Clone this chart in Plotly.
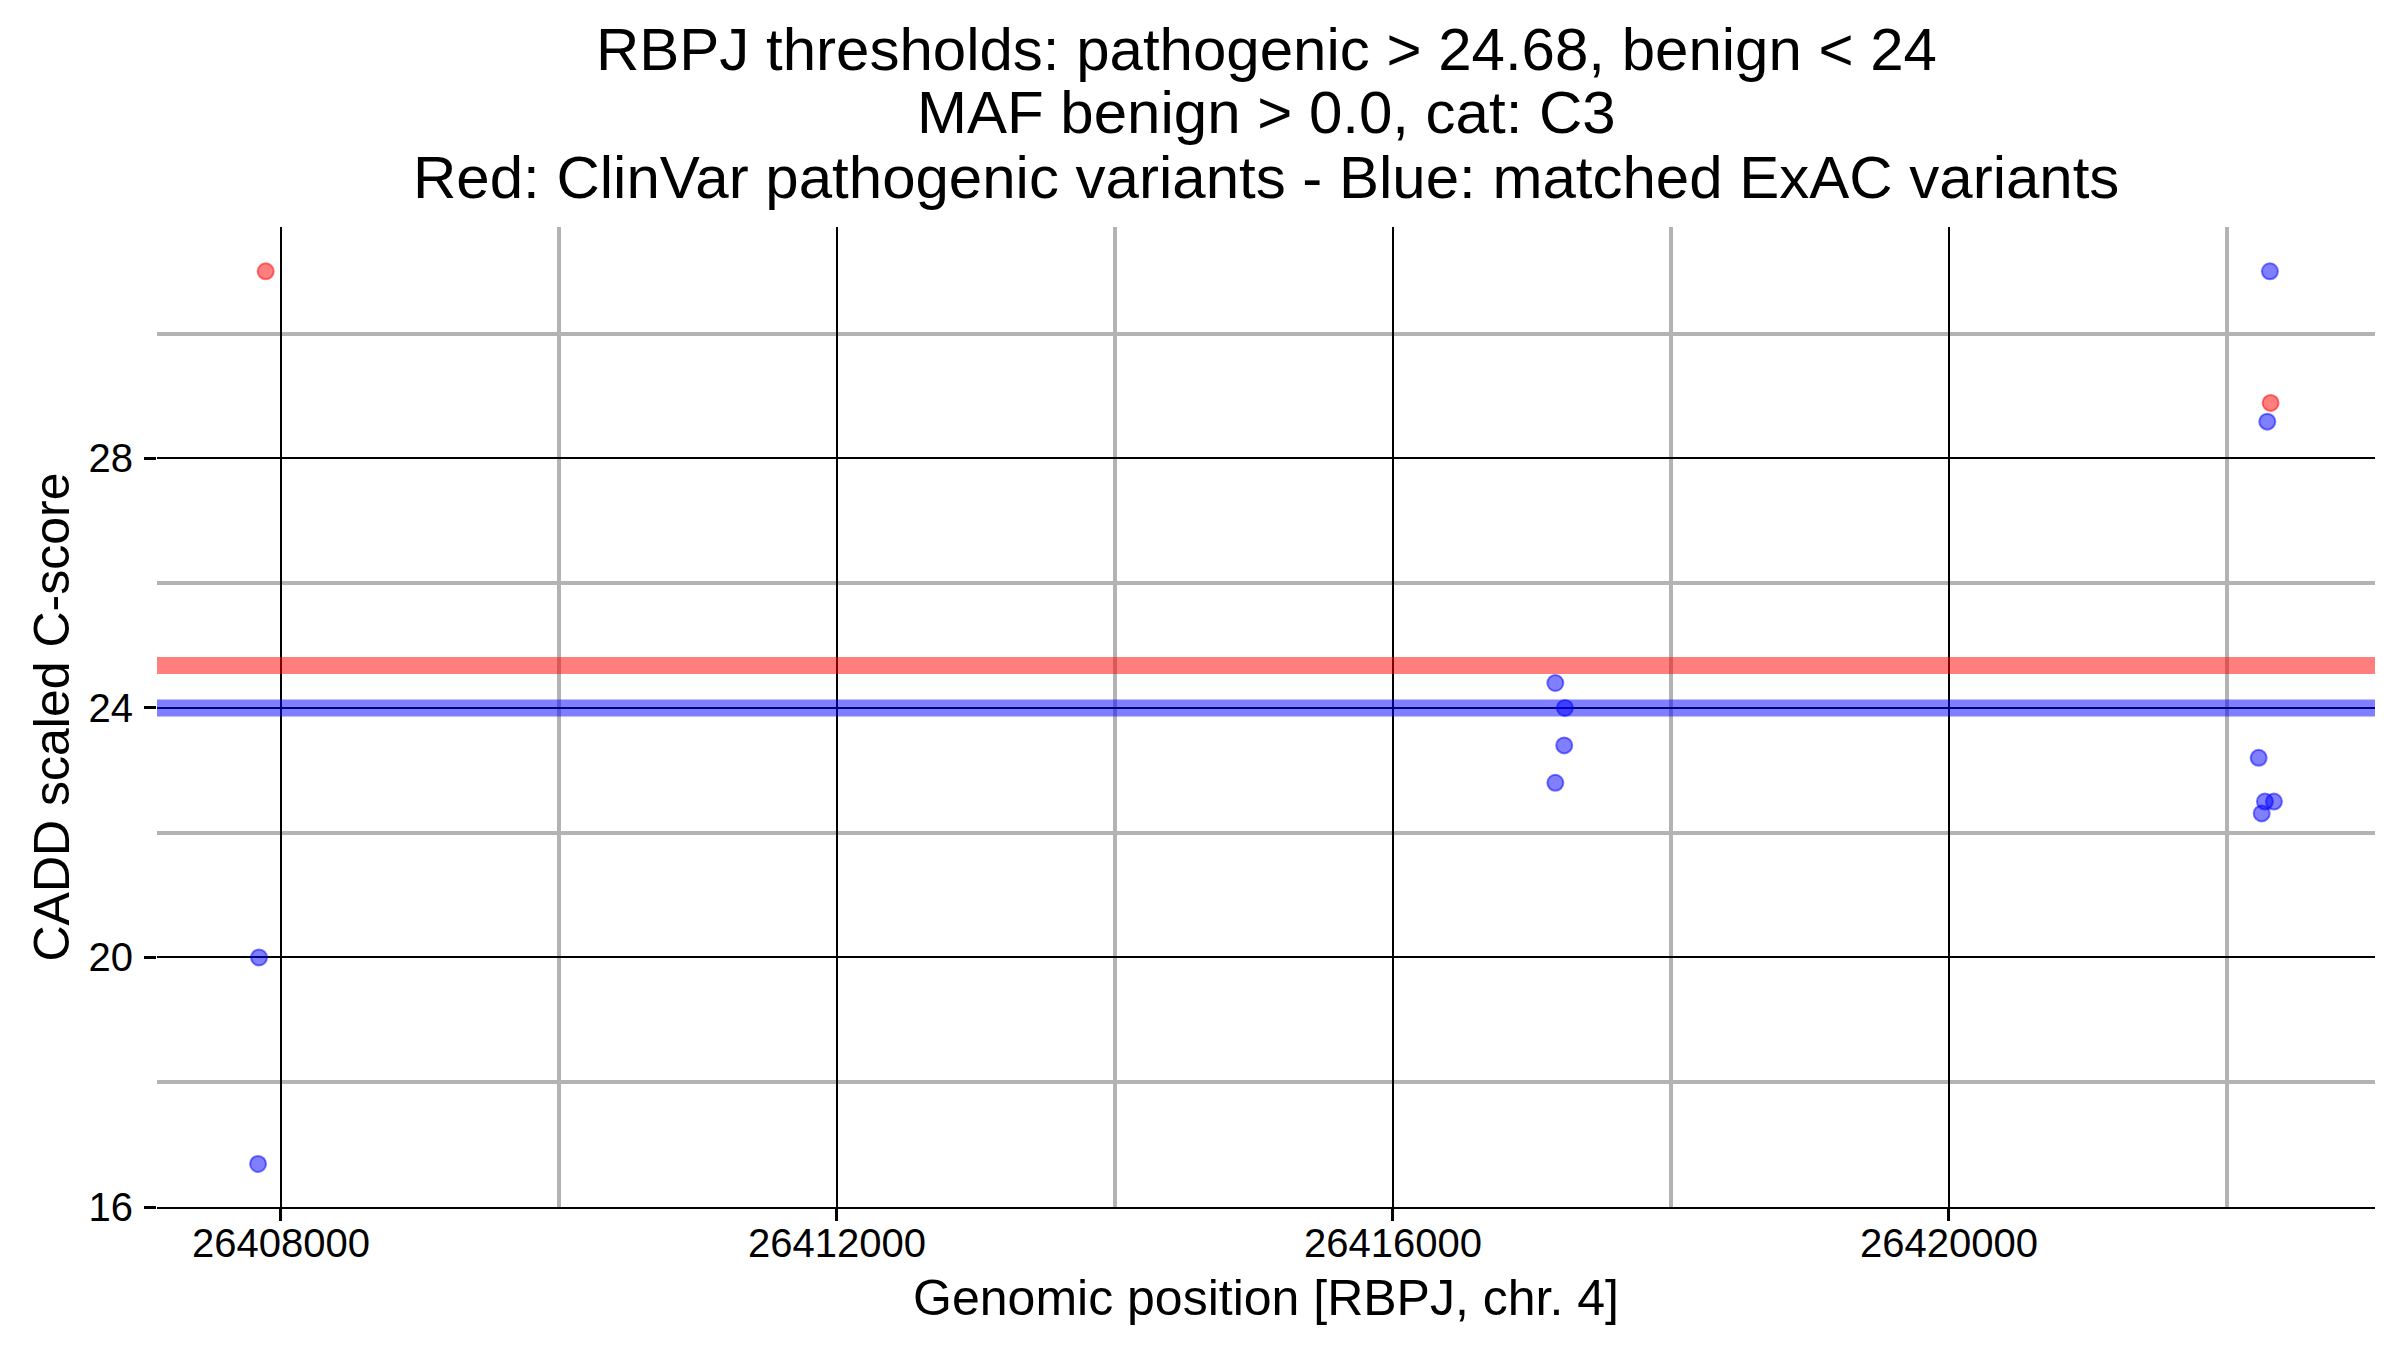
import plotly.graph_objects as go

# ---- data ----
title_lines = [
    "RBPJ thresholds: pathogenic > 24.68, benign < 24",
    "MAF benign > 0.0, cat: C3",
    "Red: ClinVar pathogenic variants - Blue: matched ExAC variants",
]
x_title = "Genomic position [RBPJ, chr. 4]"
y_title = "CADD scaled C-score"

path_pos = [26407890, 26422314]
path_score = [31.0, 28.89]

benign_pos = [26407842, 26407835, 26417168, 26417237, 26417232, 26417168,
              26422309, 26422290, 26422228, 26422273, 26422338, 26422250]
benign_score = [20.0, 16.69, 24.40, 24.0, 23.40, 22.80,
                31.0, 28.59, 23.2, 22.5, 22.5, 22.31]

path_threshold = 24.68
benign_threshold = 24.0

x_major = [26408000, 26412000, 26416000, 26420000]
x_minor = [26410000, 26414000, 26418000, 26422000]
y_major = [16, 20, 24, 28]
y_minor = [18, 22, 26, 30]
x_range = [26407108, 26423065]
y_range = [16, 31.71]

# ---- layout constants (page body has an 8px default margin) ----
W, H = 2384, 1334
ML, MR, MT, MB = 149, 17, 219, 135
FONT = "Liberation Sans, Arial, sans-serif"
plot_h = H - MT - MB

fig = go.Figure()

# threshold bands (drawn first, under the points)
for val, col in [(path_threshold, "rgba(255,0,0,0.5)"),
                 (benign_threshold, "rgba(0,0,255,0.5)")]:
    fig.add_trace(go.Scatter(
        x=x_range, y=[val, val], mode="lines",
        line=dict(color=col, width=17), hoverinfo="skip",
    ))

fig.add_trace(go.Scatter(
    x=path_pos, y=path_score, mode="markers", name="ClinVar pathogenic",
    marker=dict(size=16, color="rgba(255,0,0,0.5)",
                line=dict(color="rgba(255,0,0,0.5)", width=2)),
))
fig.add_trace(go.Scatter(
    x=benign_pos, y=benign_score, mode="markers", name="matched ExAC",
    marker=dict(size=16, color="rgba(0,0,255,0.5)",
                line=dict(color="rgba(0,0,255,0.5)", width=2)),
))

# title lines as annotations (tight line spacing like the reference)
line_centers_px = [41, 104, 170]
for txt, yc in zip(title_lines, line_centers_px):
    fig.add_annotation(
        text=txt, xref="paper", yref="paper", x=0.5,
        y=(H - MB - yc) / plot_h, xanchor="center", yanchor="middle",
        showarrow=False, font=dict(family=FONT, size=60, color="black"),
    )

fig.update_layout(
    width=W, height=H,
    margin=dict(l=ML, r=MR, t=MT, b=MB),
    paper_bgcolor="white", plot_bgcolor="white",
    showlegend=False,
    font=dict(family=FONT, color="black"),
)

fig.update_xaxes(
    range=x_range, tickvals=x_major, ticktext=[str(v) for v in x_major],
    showgrid=True, gridcolor="black", gridwidth=2,
    minor=dict(tickvals=x_minor, showgrid=True, gridcolor="#b3b3b3",
               gridwidth=4, ticks=""),
    ticks="outside", ticklen=12, tickwidth=3, tickcolor="black",
    ticklabelstandoff=-12,
    tickfont=dict(family=FONT, size=40, color="black"),
    showline=True, linecolor="black", linewidth=2,
    zeroline=False, automargin=False,
    title=dict(text=x_title, font=dict(family=FONT, size=50, color="black"),
               standoff=16),
)
fig.update_yaxes(
    range=y_range, tickvals=y_major, ticktext=[str(v) for v in y_major],
    showgrid=True, gridcolor="black", gridwidth=2,
    minor=dict(tickvals=y_minor, showgrid=True, gridcolor="#b3b3b3",
               gridwidth=4, ticks=""),
    ticks="outside", ticklen=12, tickwidth=3, tickcolor="black",
    ticklabelstandoff=3,
    tickfont=dict(family=FONT, size=40, color="black"),
    showline=False, zeroline=False, automargin=False,
    title=dict(text=y_title, font=dict(family=FONT, size=50, color="black"),
               standoff=3),
)

fig.write_html("out.html")
